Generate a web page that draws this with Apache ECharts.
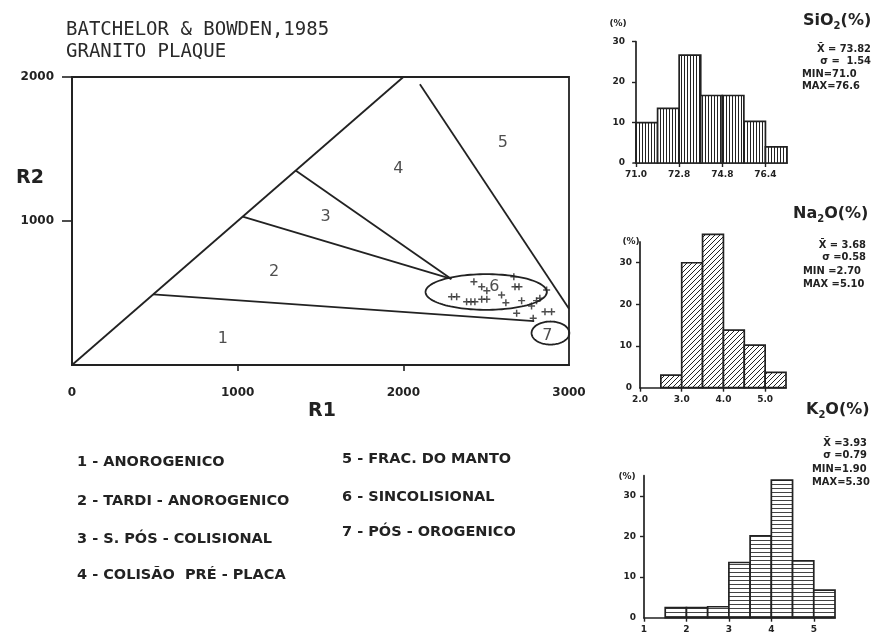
<!DOCTYPE html>
<html>
<head>
<meta charset="utf-8">
<script src="https://cdn.jsdelivr.net/npm/echarts@6/dist/echarts.min.js"></script>
<style>
  html, body { margin: 0; padding: 0; background: #ffffff; }
  #chart { width: 877px; height: 636px; }
</style>
</head>
<body>
<div id="chart"></div>
<script>
// ---- R1-R2 discrimination diagram (Batchelor & Bowden, 1985) ----
const mainXTicks = [0, 1000, 2000, 3000];
const mainYTicks = [1000, 2000];

// field boundaries, [R1, R2]
const boundaryDiagonal = [[0, 0], [2000, 2000]];
const boundary12 = [[490, 490], [2790, 305]];
const boundary23 = [[1030, 1030], [2290, 598]];
const boundary34 = [[1350, 1350], [2290, 598]];
const boundary45 = [[2100, 1950], [3000, 390]];

// sample envelopes: [centre R1, centre R2, half-width R1, half-height R2]
const envelopeField6 = [2500, 507, 366, 124];
const envelopeField7 = [2888, 222, 114, 80];

// field numbers: [label, R1, R2]
const fieldNumbers = [
  ['1', 910, 180], ['2', 1220, 645], ['3', 1530, 1030], ['4', 1970, 1360],
  ['5', 2600, 1540], ['6', 2550, 545], ['7', 2870, 205]
];

// analysed granite samples [R1, R2]
const samplesR1R2 = [
  [2426, 578], [2473, 544], [2504, 516], [2667, 613], [2674, 544], [2698, 544],
  [2291, 474], [2322, 474], [2382, 440], [2408, 440], [2432, 440], [2473, 456],
  [2504, 456], [2593, 486], [2619, 433], [2714, 447], [2774, 410], [2804, 447],
  [2824, 463], [2865, 521], [2855, 370], [2895, 370], [2684, 359], [2784, 324]
];

const legendLeft = [
  '1 - ANOROGENICO',
  '2 - TARDI - ANOROGENICO',
  '3 - S. PÓS - COLISIONAL',
  '4 - COLISÃO  PRÉ - PLACA'
];
const legendRight = [
  '5 - FRAC. DO MANTO',
  '6 - SINCOLISIONAL',
  '7 - PÓS - OROGENICO'
];

// ---- frequency histograms (% of samples) ----
// SiO2: classes numbered 0..6, edges labelled below
const sio2Freq = [10, 13.5, 26.7, 16.7, 16.7, 10.3, 4];
const sio2TickPos = [0, 2, 4, 6];
const sio2TickText = ['71.0', '72.8', '74.8', '76.4'];
const sio2Stats = ['X\u0304 = 73.82', 'σ =  1.54', 'MIN=71.0', 'MAX=76.6'];

// Na2O: class lower edges (width 0.5)
const na2oEdges = [2.5, 3.0, 3.5, 4.0, 4.5, 5.0];
const na2oFreq = [3, 30, 36.8, 13.8, 10.2, 3.7];
const na2oTicks = [2, 3, 4, 5];
const na2oStats = ['X\u0304 = 3.68', 'σ =0.58', 'MIN =2.70', 'MAX =5.10'];

// K2O: class lower edges (width 0.5)
const k2oEdges = [1.5, 2.0, 2.5, 3.0, 3.5, 4.0, 4.5, 5.0];
const k2oFreq = [2.5, 2.5, 2.7, 13.6, 20.2, 33.9, 14, 6.8];
const k2oTicks = [1, 2, 3, 4, 5];
const k2oStats = ['X\u0304 =3.93', 'σ =0.79', 'MIN=1.90', 'MAX=5.30'];

const histYTicks = [0, 10, 20, 30];

// ---------------------------------------------------------------
const INK = '#222222';
const FONT = "'DejaVu Sans', sans-serif";
const FONT_COND = "'DejaVu Sans Condensed', 'Liberation Sans Narrow', 'DejaVu Sans', sans-serif";
const MONO = "'DejaVu Sans Mono', 'Liberation Mono', monospace";

function hatchTile(kind) {
  const c = document.createElement('canvas');
  const s = kind === 'diag' ? 5 : (kind === 'horz' ? 4 : 3);
  c.width = s; c.height = s;
  const g = c.getContext('2d');
  g.fillStyle = '#ffffff';
  g.fillRect(0, 0, s, s);
  g.fillStyle = INK;
  g.strokeStyle = INK;
  if (kind === 'vert') {
    g.fillRect(0, 0, 1, s);
  } else if (kind === 'horz') {
    g.fillStyle = '#444';
    g.fillRect(0, 0, s, 1);
  } else {
    g.lineWidth = 1;
    g.beginPath();
    g.moveTo(0, s); g.lineTo(s, 0);
    g.moveTo(-1, 1); g.lineTo(1, -1);
    g.moveTo(s - 1, s + 1); g.lineTo(s + 1, s - 1);
    g.stroke();
  }
  return c;
}

const chart = echarts.init(document.getElementById('chart'), null, { renderer: 'canvas' });

function lineSeries(pts) {
  return {
    type: 'line', xAxisIndex: 0, yAxisIndex: 0, data: pts,
    symbol: 'none', silent: true, animation: false,
    lineStyle: { color: INK, width: 1.8 }
  };
}

function envelopeSeries(env) {
  return {
    type: 'custom', xAxisIndex: 0, yAxisIndex: 0, animation: false, silent: true,
    data: [env], encode: { x: 0, y: 1 },
    renderItem(params, api) {
      const cx = api.value(0), cy = api.value(1), rx = api.value(2), ry = api.value(3);
      const pts = [];
      for (let k = 0; k <= 120; k++) {
        const t = k / 120 * Math.PI * 2;
        pts.push(api.coord([cx + rx * Math.cos(t), cy + ry * Math.sin(t)]));
      }
      return { type: 'polygon', shape: { points: pts }, style: { fill: 'none', stroke: INK, lineWidth: 1.8 } };
    }
  };
}

function histSeries(idx, rows, tile) {
  const pattern = { image: hatchTile(tile), repeat: 'repeat' };
  return {
    type: 'custom', xAxisIndex: idx, yAxisIndex: idx, animation: false, silent: true,
    clip: false,
    data: rows, encode: { x: [0, 1], y: 2 },
    renderItem(params, api) {
      const p0 = api.coord([api.value(0), 0]);
      const p1 = api.coord([api.value(1), api.value(2)]);
      return {
        type: 'rect',
        shape: { x: p0[0], y: p1[1], width: p1[0] - p0[0], height: p0[1] - p1[1] },
        style: { fill: pattern, stroke: INK, lineWidth: 1.7 }
      };
    }
  };
}

function histXAxis(idx, min, max, tickPos, fmt) {
  return {
    type: 'value', gridIndex: idx, min, max,
    splitLine: { show: false },
    axisLine: { show: true, onZero: false, lineStyle: { color: INK, width: 1.7 } },
    axisTick: { show: true, customValues: tickPos, length: 4, lineStyle: { color: INK, width: 1.4 } },
    axisLabel: { customValues: tickPos, formatter: fmt, color: INK, fontFamily: FONT, fontWeight: 'bold', fontSize: 9, margin: 7 }
  };
}
function histYAxis(idx, max) {
  return {
    type: 'value', gridIndex: idx, min: 0, max,
    splitLine: { show: false },
    axisLine: { show: true, lineStyle: { color: INK, width: 1.7 } },
    axisTick: { show: true, customValues: histYTicks.slice(1), length: 4, lineStyle: { color: INK, width: 1.4 } },
    axisLabel: { customValues: histYTicks, color: INK, fontFamily: FONT, fontWeight: 'bold', fontSize: 9, margin: 8 }
  };
}

const sio2Rows = sio2Freq.map((f, i) => [i, i + 1, f]);
const na2oRows = na2oFreq.map((f, i) => [na2oEdges[i], na2oEdges[i] + 0.5, f]);
const k2oRows = k2oFreq.map((f, i) => [k2oEdges[i], k2oEdges[i] + 0.5, f]);

const txt = (x, y, text, opts) => ({
  type: 'text', x, y, silent: true,
  style: Object.assign({ text, fill: INK, font: 'bold 11px ' + FONT, textVerticalAlign: 'middle' }, opts || {})
});

const oxideTitle = (x, y, a, b) => ({
  type: 'text', x, y, silent: true,
  style: {
    text: '{m|' + a + '}{s|2}{m|' + b + '}',
    fill: INK, verticalAlign: 'middle',
    rich: {
      m: { fontFamily: FONT, fontWeight: 'bold', fontSize: 16, fill: INK, lineHeight: 22 },
      s: { fontFamily: FONT, fontWeight: 'bold', fontSize: 10, fill: INK, lineHeight: 22, padding: [10, 0, 0, 0] }
    }
  }
});

const graphics = [
  txt(66, 30, 'BATCHELOR & BOWDEN,1985', { font: '19px ' + MONO, fill: '#2a2a2a' }),
  txt(66, 52, 'GRANITO PLAQUE', { font: '19px ' + MONO, fill: '#2a2a2a' }),
  txt(30, 178, 'R2', { font: 'bold 19px ' + FONT, textAlign: 'center' }),
  txt(322, 411, 'R1', { font: 'bold 19px ' + FONT, textAlign: 'center' }),
  txt(618, 24, '(%)', { font: 'bold 9px ' + FONT, textAlign: 'center' }),
  txt(631, 242, '(%)', { font: 'bold 9px ' + FONT, textAlign: 'center' }),
  txt(627, 477, '(%)', { font: 'bold 9px ' + FONT, textAlign: 'center' }),
  oxideTitle(803, 21, 'SiO', '(%)'),
  oxideTitle(793, 214, 'Na', 'O(%)'),
  oxideTitle(806, 410, 'K', 'O(%)')
];

const legendFont = 'bold 14.5px ' + FONT;
const legendLeftY = [462, 501, 539, 575];
legendLeft.forEach((t, i) => graphics.push(txt(77, legendLeftY[i], t, { font: legendFont })));
const legendRightY = [459, 497, 532];
legendRight.forEach((t, i) => graphics.push(txt(342, legendRightY[i], t, { font: legendFont })));

// statistics: mean and deviation lines are right-aligned, MIN/MAX lines left-aligned
function statsBlock(list, rightX, leftX, ys) {
  list.forEach((t, i) => {
    if (i < 2) graphics.push(txt(rightX, ys[i], t, { font: 'bold 11px ' + FONT_COND, textAlign: 'right' }));
    else graphics.push(txt(leftX, ys[i], t, { font: 'bold 11px ' + FONT_COND }));
  });
}
statsBlock(sio2Stats, 871, 802, [49, 61, 74, 86]);
statsBlock(na2oStats, 866, 803, [245, 257, 271, 284]);
statsBlock(k2oStats, 867, 812, [443, 455, 469, 482]);

const option = {
  backgroundColor: '#ffffff',
  animation: false,
  grid: [
    { left: 72, top: 77, width: 497, height: 288, show: true, borderColor: INK, borderWidth: 1.8, backgroundColor: 'transparent' },
    { left: 633, top: 41.7, width: 154, height: 121.3 },
    { left: 640, top: 241.9, width: 146, height: 145.8 },
    { left: 644, top: 475.7, width: 191, height: 142 }
  ],
  xAxis: [
    {
      type: 'value', gridIndex: 0, min: 0, max: 3000,
      splitLine: { show: false },
      axisLine: { show: true, lineStyle: { color: INK, width: 1.8 } },
      axisTick: { show: true, customValues: [1000, 2000], length: 6, lineStyle: { color: INK, width: 1.6 } },
      axisLabel: { customValues: mainXTicks, formatter: v => String(v), color: INK, fontFamily: FONT, fontWeight: 'bold', fontSize: 12, margin: 22 }
    },
    histXAxis(1, -0.14, 7, sio2TickPos, v => sio2TickText[sio2TickPos.indexOf(v)]),
    histXAxis(2, 2, 5.5, na2oTicks, v => v.toFixed(1)),
    histXAxis(3, 1, 5.5, k2oTicks, v => String(v))
  ],
  yAxis: [
    {
      type: 'value', gridIndex: 0, min: 0, max: 2000,
      splitLine: { show: false },
      axisLine: { show: true, lineStyle: { color: INK, width: 1.8 } },
      axisTick: { show: true, customValues: mainYTicks, length: 10, lineStyle: { color: INK, width: 1.6 } },
      axisLabel: { customValues: mainYTicks, formatter: v => String(v), color: INK, fontFamily: FONT, fontWeight: 'bold', fontSize: 12, margin: 18 }
    },
    histYAxis(1, 30),
    histYAxis(2, 35),
    histYAxis(3, 35)
  ],
  series: [
    lineSeries(boundaryDiagonal),
    lineSeries(boundary12),
    lineSeries(boundary23),
    lineSeries(boundary34),
    lineSeries(boundary45),
    envelopeSeries(envelopeField6),
    envelopeSeries(envelopeField7),
    {
      type: 'scatter', xAxisIndex: 0, yAxisIndex: 0, silent: true,
      data: samplesR1R2,
      symbol: 'path://M3,0h1.6v7.6h-1.6zM0,3h7.6v1.6h-7.6z',
      symbolSize: 7,
      itemStyle: { color: INK }
    },
    {
      type: 'scatter', xAxisIndex: 0, yAxisIndex: 0, silent: true,
      data: fieldNumbers.map(d => ({ value: [d[1], d[2]], name: d[0] })),
      symbolSize: 0,
      label: { show: true, position: 'inside', formatter: p => p.name, color: INK, fontFamily: FONT, fontSize: 16 }
    },
    histSeries(1, sio2Rows, 'vert'),
    histSeries(2, na2oRows, 'diag'),
    histSeries(3, k2oRows, 'horz')
  ],
  graphic: graphics
};

chart.setOption(option);
</script>
</body>
</html>
